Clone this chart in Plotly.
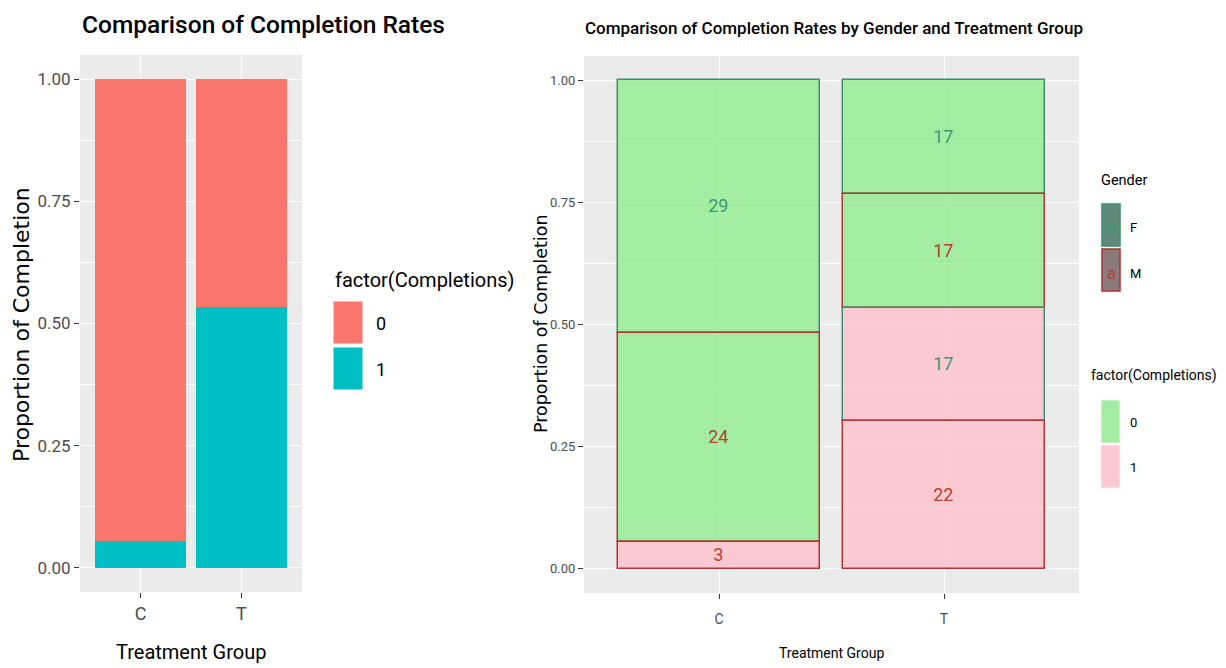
import plotly.graph_objects as go

# ---------------- data ----------------
groups = ["C", "T"]
completion_levels = ["0", "1"]

# left panel: counts by completion within treatment group
count_completion_0 = [53, 34]
count_completion_1 = [3, 39]

# right panel: counts by gender x completion within treatment group (stack order bottom->top)
seg_names = ["M1", "F1", "M0", "F0"]
seg_gender = ["M", "F", "M", "F"]
seg_completion = ["1", "1", "0", "0"]
seg_counts_C = [3, 0, 24, 29]
seg_counts_T = [22, 17, 17, 17]

gender_levels = ["F", "M"]

# ---------------- styling ----------------
OFF = 8                      # page body margin of the html page
W, H = 1226 - OFF, 668 - OFF
PANEL_BG = "#EBEBEB"
TICK_COL = "#4D4D4D"
NARROW = "Roboto, Liberation Sans, Arial, sans-serif"
WIDE = "DejaVu Sans, Verdana, sans-serif"
left_fill = {"0": "#F8766D", "1": "#00BFC4"}
right_fill = {"0": "rgba(144,238,144,0.8)", "1": "rgba(255,192,203,0.8)"}
right_key = {"0": "#A2EDA2", "1": "#FBC9D1"}
gender_line = {"F": "#3F8F70", "M": "#B03535"}
gender_text = {"F": "#3C9A78", "M": "#B8402E"}


def px_x(x):
    return (x - OFF) / W


def px_y(y):
    return 1 - (y - OFF) / H


fig = go.Figure()

# left panel (stacked by explicit bases)
totals_left = [a + b for a, b in zip(count_completion_0, count_completion_1)]
prop1 = [c / t for c, t in zip(count_completion_1, totals_left)]
prop0 = [c / t for c, t in zip(count_completion_0, totals_left)]
fig.add_trace(go.Bar(
    x=groups, y=prop0, base=prop1, name="0", width=0.9,
    marker=dict(color=left_fill["0"], line=dict(width=0)),
    xaxis="x", yaxis="y", showlegend=False,
))
fig.add_trace(go.Bar(
    x=groups, y=prop1, base=[0, 0], name="1", width=0.9,
    marker=dict(color=left_fill["1"], line=dict(width=0)),
    xaxis="x", yaxis="y", showlegend=False,
))

# right panel: compute stacked bases, draw top segment first (as ggplot does)
totals_right = [sum(seg_counts_C), sum(seg_counts_T)]
props_all, bases_all = [], []
cum = [0.0, 0.0]
for i in range(len(seg_names)):
    counts = [seg_counts_C[i], seg_counts_T[i]]
    props = [c / t for c, t in zip(counts, totals_right)]
    props_all.append(props)
    bases_all.append(list(cum))
    cum = [a + b for a, b in zip(cum, props)]

for i in reversed(range(len(seg_names))):
    counts = [seg_counts_C[i], seg_counts_T[i]]
    keep = [k for k, c in enumerate(counts) if c > 0]
    g = seg_gender[i]
    fig.add_trace(go.Bar(
        x=[groups[k] for k in keep],
        y=[props_all[i][k] for k in keep],
        base=[bases_all[i][k] for k in keep],
        name=seg_names[i], width=0.9,
        text=[str(counts[k]) for k in keep],
        textposition="inside", insidetextanchor="middle", textangle=0,
        constraintext="none",
        textfont=dict(family=NARROW, size=18, color=gender_text[g]),
        marker=dict(color=right_fill[seg_completion[i]],
                    line=dict(color=gender_line[g], width=1.5)),
        xaxis="x2", yaxis="y2", showlegend=False,
    ))

yaxis_common = dict(
    range=[-0.05, 1.05], tickvals=[0, 0.25, 0.5, 0.75, 1.0],
    tickformat=".2f", showgrid=True, gridcolor="white", gridwidth=1.3,
    zeroline=False, ticks="outside", ticklen=5, tickcolor="#333333",
    minor=dict(tickvals=[0.125, 0.375, 0.625, 0.875], showgrid=True,
               gridcolor="white", gridwidth=0.6, ticks=""),
    showline=False,
)
xaxis_common = dict(
    type="category", range=[-0.6, 1.6], showgrid=True, gridcolor="white",
    gridwidth=1.3, zeroline=False, ticks="outside", ticklen=5,
    tickcolor="#333333", showline=False,
)

fig.update_layout(
    width=W, height=H, margin=dict(l=0, r=0, t=0, b=0),
    paper_bgcolor="white", plot_bgcolor=PANEL_BG,
    barmode="overlay", bargap=0, showlegend=False,
    xaxis=dict(xaxis_common, domain=[px_x(80), px_x(302)], anchor="y",
               tickfont=dict(family=NARROW, size=18, color=TICK_COL)),
    yaxis=dict(yaxis_common, domain=[px_y(592), px_y(55)], anchor="x",
               tickfont=dict(family=NARROW, size=17, color=TICK_COL)),
    xaxis2=dict(xaxis_common, domain=[px_x(584), px_x(1079)], anchor="y2",
                tickfont=dict(family=NARROW, size=14, color=TICK_COL),
                ticklabelstandoff=8),
    yaxis2=dict(yaxis_common, domain=[px_y(593), px_y(56)], anchor="x2",
                tickfont=dict(family=NARROW, size=13, color=TICK_COL)),
)

ann = []
shapes = []


def text(x, y, s, size, family=NARROW, color="black", angle=0, xanchor="center", weight=None):
    f = dict(family=family, size=size, color=color)
    if weight:
        f["weight"] = weight
    ann.append(dict(
        x=px_x(x), y=px_y(y), xref="paper", yref="paper",
        text=s, showarrow=False, font=f,
        textangle=angle, xanchor=xanchor, yanchor="middle",
    ))


# titles
text(80, 24, "Comparison of Completion Rates", 24.5, xanchor="left", weight=500)
text(583, 28, "Comparison of Completion Rates by Gender and Treatment Group", 17, xanchor="left", weight=500)
# axis titles
text(191, 652, "Treatment Group", 20)
text(831, 653, "Treatment Group", 14)
text(22, 325, "Proportion of Completion", 22, family=WIDE, angle=-90)
text(541, 324, "Proportion of Completion", 17.5, family=WIDE, angle=-90)


def key(x0, y0, x1, y1, fill, line="white", lw=1):
    shapes.append(dict(type="rect", xref="paper", yref="paper",
                       x0=px_x(x0), x1=px_x(x1), y0=px_y(y1), y1=px_y(y0),
                       fillcolor=fill, line=dict(color=line, width=lw)))


# left legend
text(333, 280, "factor(Completions)", 20, xanchor="left")
for i, lvl in enumerate(completion_levels):
    y0 = 301 + i * 46
    key(333, y0, 363, y0 + 43, left_fill[lvl])
    text(374, y0 + 22, lvl, 18, xanchor="left")

# right legend: Gender
text(1099, 180, "Gender", 14.5, xanchor="left")
gender_key_fill = {"F": "#5E8A7A", "M": "#8A7A7A"}
for i, g in enumerate(gender_levels):
    y0 = 203 + i * 45
    key(1101, y0, 1121, y0 + 44, "#F2F2F2", line="#F2F2F2")
    key(1102, y0 + 1, 1120, y0 + 43, gender_key_fill[g], line=gender_line[g], lw=1.5)
    text(1111, y0 + 25, "a", 16, color=gender_text[g])
    text(1128, y0 + 25, g, 13, xanchor="left")

# right legend: completion fill
text(1089, 375, "factor(Completions)", 14, xanchor="left")
for i, lvl in enumerate(completion_levels):
    y0 = 400 + i * 45
    key(1101, y0, 1120, y0 + 43, right_key[lvl], line="#F2F2F2")
    text(1128, y0 + 22, lvl, 13, xanchor="left")

fig.update_layout(annotations=ann, shapes=shapes)
fig.write_html("out.html")
